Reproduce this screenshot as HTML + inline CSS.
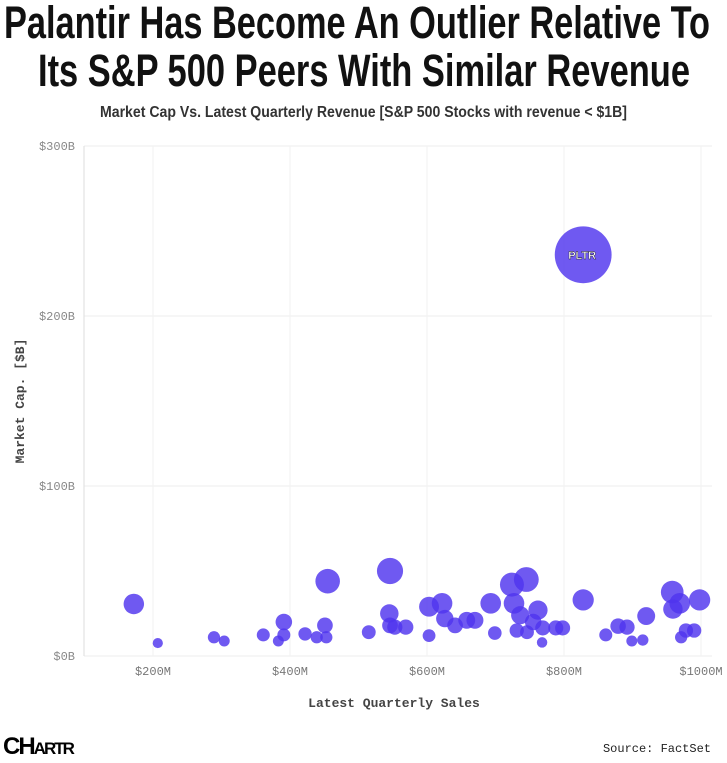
<!DOCTYPE html>
<html><head><meta charset="utf-8"><style>
body{margin:0;background:#fff;width:727px;height:763px;overflow:hidden;font-family:"Liberation Sans",sans-serif}
.fit{position:absolute;white-space:nowrap;transform-origin:0 0;font-family:"Liberation Sans",sans-serif;font-weight:bold;color:#111}
</style></head><body>
<div class="fit" id="t1" data-tw="706" data-tx="4" style="top:0px;font-size:45px;line-height:45px">Palantir Has Become An Outlier Relative To</div>
<div class="fit" id="t2" data-tw="652" data-tx="38" style="top:48px;font-size:45px;line-height:45px">Its S&amp;P 500 Peers With Similar Revenue</div>
<div class="fit" id="t3" data-tw="527" data-tx="100" style="top:104px;font-size:16px;line-height:18px;color:#333">Market Cap Vs. Latest Quarterly Revenue [S&amp;P 500 Stocks with revenue &lt; $1B]</div>
<svg id="c" width="727" height="763" style="position:absolute;left:0;top:0"></svg>
<div style="position:absolute;left:3px;top:733px;font-weight:900;font-size:24px;letter-spacing:-2px;color:#000;font-family:'Liberation Sans',sans-serif">CH<span style="font-size:17px">ARTR</span></div>
<div style="position:absolute;right:16px;top:742px;font-family:'Liberation Mono',monospace;font-size:12px;color:#222">Source: FactSet</div>
<script>
document.querySelectorAll('.fit').forEach(e=>{const w=e.getBoundingClientRect().width;const tw=+e.dataset.tw;e.style.left=e.dataset.tx+'px';e.style.transform='scaleX('+(tw/w)+')';});
const sales=[172,207,289,304,361,383,391,391,422,439,451,453,455,515,546,545,546,553,569,603,603,622,626,641,658,670,693,699,731,724,727,736,746,745,755,762,768,769,788,798,828,861,879,892,899,915,920,958,959,969,998,971,978,990,828];
const caps=[30.6,7.6,11,8.8,12.4,8.8,20,12.4,13,11,18,11,44,14,50,25,18,17,17,29,12,31,22,18,21,21,31,13.5,15,42,31,24,14,45,20,27,8,16.5,16.5,16.5,33,12.4,17.6,17,8.8,9.4,23.5,37.6,27.6,31,33,11,15,15,236];
const labels=sales.map((s,i)=>i===sales.length-1?"PLTR":"");
const xTicks=[200,400,600,800,1000];
const xTickLabels=["$200M","$400M","$600M","$800M","$1000M"];
const yTicks=[0,100,200,300];
const yTickLabels=["$0B","$100B","$200B","$300B"];
const X=v=>84.5+(v-100)*0.685;
const Y=v=>656-v*1.7;
const R=v=>1.85*Math.sqrt(v);
const s=document.getElementById('c');const NS="http://www.w3.org/2000/svg";
function mk(t,a){const e=document.createElementNS(NS,t);for(const k in a)e.setAttribute(k,a[k]);s.appendChild(e);return e;}
yTicks.forEach((v,i)=>{
 const l=mk('line',{x1:84,x2:712,y1:Y(v),y2:Y(v),stroke:'#eee'});
 
 
 const t=mk('text',{x:75,y:Y(v)+4,'text-anchor':'end','font-family':'Liberation Mono,monospace','font-size':12,fill:'#888'});
 t.textContent=yTickLabels[i];
 
 
});
xTicks.forEach((v,i)=>{
 const l=mk('line',{x1:X(v),x2:X(v),y1:146,y2:656,stroke:'#f2f2f2'});
 
 
 const t=mk('text',{x:X(v),y:675,'text-anchor':'middle','font-family':'Liberation Mono,monospace','font-size':12,fill:'#777'});
 t.textContent=xTickLabels[i];
 
 
});
const ax=mk('line',{x1:84,x2:84,y1:146,y2:656,stroke:'#ddd'});


sales.forEach((v,i)=>{
 const c=mk('circle',{cx:X(v),cy:Y(caps[i]),r:R(caps[i]),fill:'#4f34ee','fill-opacity':0.82});
 
 
 if(labels[i]){const t=mk('text',{x:X(v)-1,y:Y(caps[i])+4,'text-anchor':'middle','font-family':'Liberation Sans,sans-serif','font-size':11,'font-weight':'bold',fill:'#fff',stroke:'#222','stroke-width':0.4});
 t.textContent=labels[i];
 
 }
});
const xt=mk('text',{x:394,y:707,'text-anchor':'middle','font-family':'Liberation Mono,monospace','font-size':13,'font-weight':'bold',fill:'#444'});
xt.textContent="Latest Quarterly Sales";


const yt=mk('text',{x:0,y:0,'text-anchor':'middle','font-family':'Liberation Mono,monospace','font-size':13,'font-weight':'bold',fill:'#444',transform:'translate(24,401) rotate(-90)'});
yt.textContent="Market Cap. [$B]";


</script>
</body></html>
